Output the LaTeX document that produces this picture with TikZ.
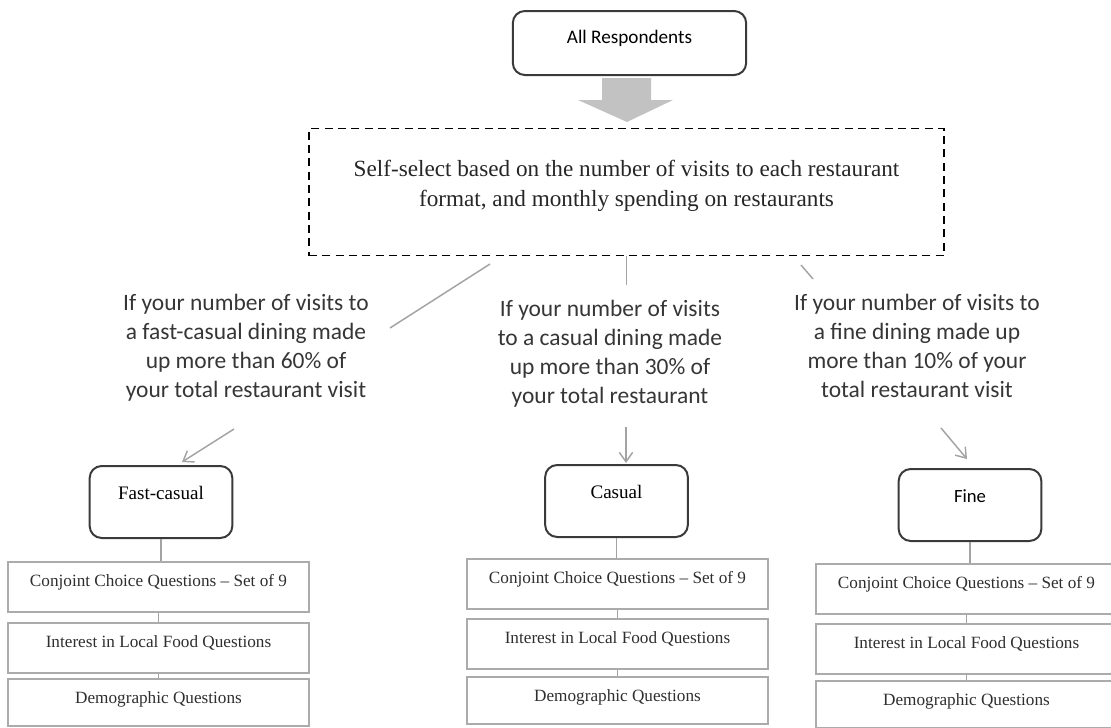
\documentclass[tikz,border=0pt]{standalone}
\usepackage{fontspec}
\setmainfont{Liberation Serif}
\newfontfamily\calfont{Carlito}
\usepackage{tikz}
\usetikzlibrary{calc,shapes,arrows,arrows.meta}

\definecolor{boxline}{HTML}{3A3A3A}
\definecolor{qline}{HTML}{ABABAB}
\definecolor{conn}{HTML}{A3A3A3}
\definecolor{blockfill}{HTML}{C2C2C2}
\definecolor{condtext}{HTML}{363636}
\definecolor{qtext}{HTML}{2E2E2E}

\tikzset{
	grp/.style={draw=boxline, line width=1.5pt, rounded corners=9pt, inner sep=0pt, anchor=north, minimum width=107pt, text height=25.3pt, text depth=28.7pt, font=\fontsize{14.3}{17}\selectfont},
	qbox/.style={draw=qline, line width=1.4pt, inner sep=0pt, anchor=north, minimum width=225.75pt, text height=18.2pt, text depth=19.3pt, text=qtext, font=\fontsize{12.9}{15}\selectfont},
	selbox/.style={draw=black, line width=1.1pt, dash pattern=on 6pt off 4pt, inner sep=0pt, anchor=north, minimum width=476.25pt, minimum height=95.25pt},
	seltext/.style={align=center, text=black!85, font=\fontsize{17.4}{22.5}\selectfont},
	cond/.style={align=center, text=condtext, font=\calfont\fontsize{17.6}{21.75}\selectfont},
	gline/.style={draw=conn, line width=1.1pt},
	garrow/.style={gline, -{Straight Barb[length=7pt, width=10pt]}}
}

\begin{document}
\begin{tikzpicture}[x=0.75pt, y=-0.75pt]
	\useasboundingbox (0,0) rectangle (1111,728);

	% top of the chart
	\draw (629.5,10) node[grp, minimum width=175pt, text height=24.6pt, text depth=23.4pt, font=\calfont\fontsize{14.4}{17}\selectfont] (all) {All Respondents};
	\fill[blockfill] (602,78) -- (651,78) -- (651,100) -- (673,100) -- (627,122) -- (578,100) -- (602,100) -- cycle;
	\draw (626.5,128) node[selbox] (sel) {};
	\draw (626.5,186) node[seltext] (seltxt) {Self-select based on the number of visits to each restaurant\\format, and monthly spending on restaurants};

	% conditions
	\draw (246,347.5) node[cond] (c1) {If your number of visits to\\a fast-casual dining made\\up more than 60\% of\\your total restaurant visit};
	\draw (610,353.5) node[cond] (c2) {If your number of visits\\to a casual dining made\\up more than 30\% of\\your total restaurant};
	\draw (917,345.5) node[cond] (c3) {If your number of visits to\\a fine dining made up\\more than 10\% of your\\total restaurant visit};

	\coordinate (l1) at (490,264);
	\coordinate (l2) at (390,328);
	\coordinate (m1) at (626.5,285);
	\coordinate (r1) at (801,265);
	\coordinate (r2) at (813,279);
	\draw[gline] (l1) -- (l2);
	\draw[gline] (sel.south) -- (m1);
	\draw[gline] (r1) -- (r2);

	% formats
	\draw (161,465) node[grp] (fc) {Fast-casual};
	\draw (616.5,464) node[grp] (cas) {Casual};
	\draw (970,468) node[grp, font=\calfont\fontsize{14}{17}\selectfont] (fine) {Fine};

	\coordinate (a1) at (234,429);
	\coordinate (a2) at (626,427);
	\coordinate (a3) at (941,428);
	\draw[garrow] (a1) -- ([shift={(21,-3)}]fc.north);
	\draw[garrow] (a2) -- ([shift={(9.5,-1)}]cas.north);
	\draw[garrow] (a3) -- ([shift={(-3,-9)}]fine.north);

	% question blocks
	\draw (158.5,561) node[qbox] (fc1) {Conjoint Choice Questions -- Set of 9};
	\draw (158.5,622) node[qbox] (fc2) {Interest in Local Food Questions};
	\draw (158.5,678) node[qbox, text depth=17pt] (fc3) {Demographic Questions};
	\draw[gline] (fc.south) -- (fc.south |- fc1.north);
	\draw[gline] (fc1.south) -- (fc2.north);
	\draw[gline] (fc2.south) -- (fc3.north);

	\draw (617.5,558) node[qbox] (cas1) {Conjoint Choice Questions -- Set of 9};
	\draw (617.5,618) node[qbox] (cas2) {Interest in Local Food Questions};
	\draw (617.5,676) node[qbox, text depth=17pt] (cas3) {Demographic Questions};
	\draw[gline] (cas.south) -- (cas.south |- cas1.north);
	\draw[gline] (cas1.south) -- (cas2.north);
	\draw[gline] (cas2.south) -- (cas3.north);

	\draw (966.5,563) node[qbox] (fine1) {Conjoint Choice Questions -- Set of 9};
	\draw (966.5,623) node[qbox] (fine2) {Interest in Local Food Questions};
	\draw (966.5,680) node[qbox, text depth=17pt] (fine3) {Demographic Questions};
	\draw[gline] (fine.south) -- (fine.south |- fine1.north);
	\draw[gline] (fine1.south) -- (fine2.north);
	\draw[gline] (fine2.south) -- (fine3.north);

\end{tikzpicture}
\end{document}
